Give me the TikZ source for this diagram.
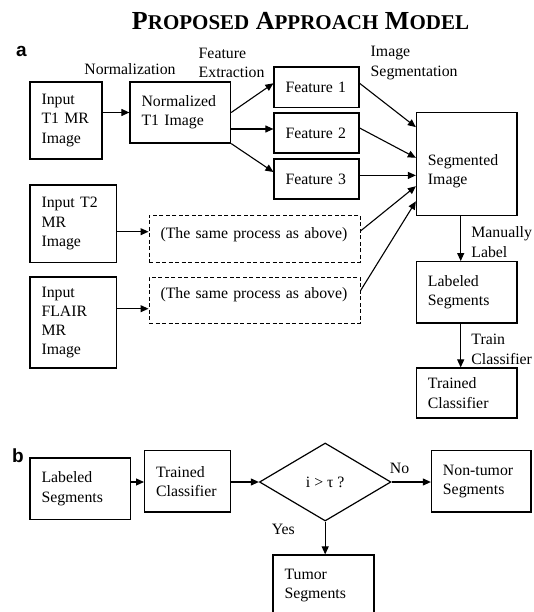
\documentclass[tikz,border=0pt]{standalone}
\usepackage{fontspec}
\setmainfont{Liberation Serif}
\newfontfamily\lsans{Liberation Sans}
\usetikzlibrary{arrows.meta,shapes.geometric,calc}
\newcommand\tsc[1]{{\fontsize{21}{24}\selectfont #1}}
\tikzset{
  fs/.style={font=\fontsize{15.8}{19.3}\selectfont},
  box/.style={draw, line width=1.2pt, inner xsep=11.5pt, inner ysep=0pt, align=left, fs},
  dbox/.style={box, line width=1pt, dash pattern=on 4pt off 2.5pt},
  lbl/.style={inner sep=0pt, align=left, fs},
  arr/.style={line width=1.1pt, -{Triangle[length=8pt,width=7pt]}},
}
\begin{document}
\begin{tikzpicture}[x=1pt,y=-1pt]
\useasboundingbox (0,0) rectangle (534,612);

% title and panel letters
\node[inner sep=0pt, font=\fontsize{26}{30}\selectfont\bfseries] (title) at (300.5,21.4) {P\tsc{ROPOSED} A\tsc{PPROACH} M\tsc{ODEL}};
\node[inner sep=0pt, font=\fontsize{19}{22}\selectfont\lsans\bfseries] (pa) at (21.5,51) {a};
\node[inner sep=0pt, font=\fontsize{19}{22}\selectfont\lsans\bfseries] (pb) at (18,455.8) {b};

% panel a boxes
\node[box, text width=49pt, minimum height=77pt] (t1) at (66,120.5) {Input\\T1 MR\\Image};
\node[box, text width=77.6pt, minimum height=61pt] (norm) at (180.3,112.5) {Normalized\\T1 Image};
\node[box, text width=62pt, minimum height=40.5pt] (f1) at (316.5,87.3) {Feature 1};
\node[box, text width=62pt, minimum height=40pt] (f2) at (316.5,133) {Feature 2};
\node[box, text width=62pt, minimum height=40pt] (f3) at (316.5,179) {Feature 3};
\node[box, text width=77.5pt, minimum height=103.4pt] (seg) at (466.7,164.1) {\rule{0pt}{25pt}Segmented\\Image};
\node[box, text width=63.5pt, minimum height=77.4pt] (t2) at (73.25,223.7) {Input T2\\MR\\Image};
\node[dbox, text width=188pt, minimum height=47.4pt] (d1) at (254.5,238.7) {(The same process as above)\rule[-12pt]{0pt}{0pt}};
\node[box, text width=63.5pt, minimum height=91pt] (flair) at (73.25,322.5) {Input\\FLAIR\\MR\\Image};
\node[dbox, text width=188pt, minimum height=46pt] (d2) at (254.5,300) {(The same process as above)\rule[-13pt]{0pt}{0pt}};
\node[box, text width=77.5pt, minimum height=61.3pt] (lab) at (466.7,292.3) {Labeled\\Segments};
\node[box, text width=77.5pt, minimum height=50pt] (trn) at (466.7,393) {Trained\\Classifier};

% panel a labels
\node[lbl] (lnorm) at (130,69) {Normalization};
\node[lbl, anchor=west] (lfe) at (198.5,63) {Feature\\Extraction};
\node[lbl, anchor=west] (lis) at (370.5,63) {Image\\Segmentation};
\node[lbl, anchor=west] (lml) at (471.2,242) {Manually\\Label};
\node[lbl, anchor=west] (ltc) at (471.2,349.4) {Train\\Classifier};

% panel a connectors
\draw[arr] (t1.east |- norm) -- (norm.west);
\draw[arr] (norm.east) -- ([yshift=4pt]f1.west);
\coordinate (f2in) at ([yshift=4pt]f2.west);
\draw[arr] (norm.east |- f2in) -- (f2in);
\draw[arr] (norm.south east) -- ([yshift=7pt]f3.west);
\draw[arr] ([yshift=4pt]f1.east) -- ([yshift=-15.3pt]seg.north west);
\draw[arr] ([yshift=5pt]f2.east) -- ([yshift=-46pt]seg.north west);
\coordinate (f3out) at ([yshift=3.6pt]f3.east);
\draw[arr] (f3out) -- (f3out -| seg.west);
\draw[arr] ([yshift=7.7pt]d1.east) -- ([yshift=-74.4pt]seg.north west);
\draw[arr] ([yshift=9.3pt]d2.east) -- ([yshift=-89.6pt]seg.north west);
\coordinate (t2out) at ([yshift=-8pt]t2.east);
\draw[arr] (t2out) -- (t2out -| d1.west);
\coordinate (flout) at ([yshift=13.8pt]flair.east);
\draw[arr] (flout) -- (flout -| d2.west);
\coordinate (segout) at ([xshift=-6pt]seg.south);
\draw[arr] (segout) -- (segout |- lab.north);
\coordinate (labout) at ([xshift=-6pt]lab.south);
\draw[arr] (labout) -- (labout |- trn.north);

% panel b
\node[box, text width=77.4pt, minimum height=61.5pt] (lb) at (80.2,488.8) {Labeled\\Segments};
\node[box, text width=63pt, minimum height=61.4pt] (tb) at (187.6,481.3) {Trained\\Classifier};
\node[draw, line width=1.2pt, diamond, inner sep=0pt, minimum width=131.5pt, minimum height=78pt, fs] (dia) at (325.2,482) {i > τ ?\hspace{17pt}};
\node[box, text width=76.5pt, minimum height=61.4pt] (nt) at (481.2,481.3) {Non-tumor\\Segments};
\node[box, text width=78pt, minimum height=61pt] (tu) at (323.5,585.5) {Tumor\\Segments};
\node[lbl] (lno) at (399.5,468.7) {No};
\node[lbl] (lyes) at (283.3,529) {Yes};

\draw[arr] (lb.east |- dia) -- (tb.west |- dia);
\draw[arr] (tb.east |- dia) -- (dia.west);
\draw[arr] (dia.east) -- (nt.west |- dia);
\draw[arr] (dia.south) -- (dia.south |- tu.north);
\end{tikzpicture}
\end{document}
